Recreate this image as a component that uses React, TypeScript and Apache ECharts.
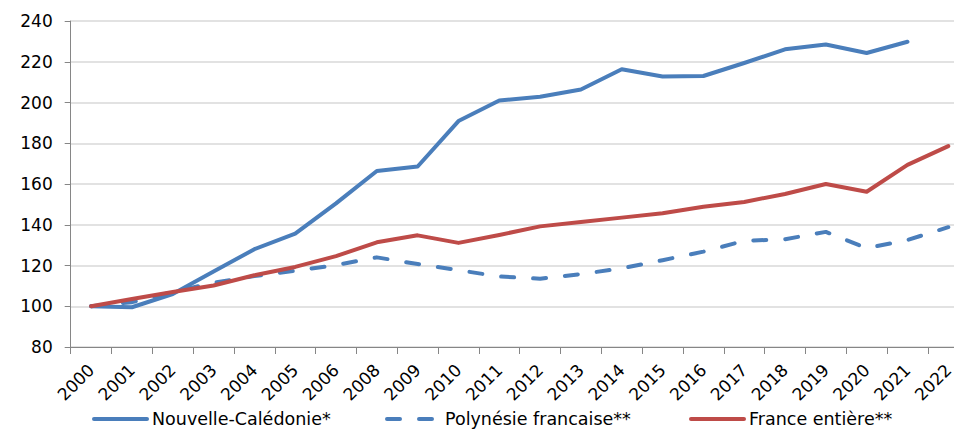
import React, { useEffect, useRef } from "react";
import * as echarts from "echarts";

const years = ["2000","2001","2002","2003","2004","2005","2006","2008","2009","2010","2011","2012","2013","2014","2015","2016","2017","2018","2019","2020","2021","2022"];
const nouvelleCaledonie = [100, 99.5, 106, 117, 128, 135.6, 150.5, 166.4, 168.6, 190.9, 201, 202.8, 206.4, 216.3, 212.8, 213, 219.4, 226.1, 228.5, 224.3, 229.8, null];
const polynesie = [100, 102, 107, 111.5, 114.8, 117.4, 120.2, 124, 120.7, 117.7, 114.6, 113.5, 115.8, 118.6, 122.6, 126.8, 132.1, 132.9, 136.5, 128.5, 132.5, 138.8];
const france = [100, 103.6, 107, 110.2, 115.2, 119.3, 124.6, 131.4, 134.8, 131.1, 135, 139.2, 141.4, 143.5, 145.6, 148.8, 151.2, 155.1, 160, 156.2, 169.4, 178.6];
const seriesNames = ["Nouvelle-Calédonie*", "Polynésie francaise**", "France entière**"];
const yTicks = { min: 80, max: 240, interval: 20 };

const BLUE = "#4a7ebb";
const RED = "#be4b48";
const FONT = "DejaVu Sans";

export default function App() {
  const ref = useRef<HTMLDivElement>(null);
  useEffect(() => {
    if (!ref.current) return;
    const chart = echarts.init(ref.current, null, { renderer: "svg" });
    const legendBase = {
      top: 410,
      padding: 0,
      itemWidth: 53,
      itemHeight: 18,
      itemStyle: { opacity: 0 },
      lineStyle: { width: 4, cap: "round" },
      textStyle: { fontFamily: FONT, fontSize: 17.5, color: "#000", padding: [0, 0, 0, 0] },
      itemGap: 5,
    };
    chart.setOption({
      animation: false,
      backgroundColor: "#fff",
      grid: { left: 70.7, top: 21, width: 898, height: 326, outerBoundsMode: "none", containLabel: false },
      legend: [
        { ...legendBase, left: 92, data: [seriesNames[0]] },
        { ...legendBase, left: 385, data: [seriesNames[1]] },
        { ...legendBase, left: 689, data: [seriesNames[2]] },
      ],
      xAxis: {
        type: "category",
        data: years,
        boundaryGap: true,
        axisLine: { lineStyle: { color: "#868686", width: 1 } },
        axisTick: { show: true, length: 7, lineStyle: { color: "#868686" } },
        axisLabel: { rotate: 45, fontFamily: FONT, fontSize: 17, color: "#000", margin: 20, interval: 0 },
        splitLine: { show: false },
      },
      yAxis: {
        type: "value",
        min: yTicks.min,
        max: yTicks.max,
        interval: yTicks.interval,
        axisLine: { show: true, lineStyle: { color: "#868686", width: 1 } },
        axisTick: { show: true, length: 6, lineStyle: { color: "#868686" } },
        axisLabel: { fontFamily: FONT, fontSize: 17, color: "#000", margin: 18 },
        splitLine: { lineStyle: { color: "#d9d9d9", width: 1.5 } },
      },
      series: [
        {
          name: seriesNames[0], type: "line", data: nouvelleCaledonie, symbol: "none",
          itemStyle: { color: BLUE },
          lineStyle: { color: BLUE, width: 4, join: "round", cap: "round" },
        },
        {
          name: seriesNames[1], type: "line", data: polynesie, symbol: "none",
          itemStyle: { color: BLUE },
          lineStyle: { color: BLUE, width: 4, type: [13, 19], cap: "round", join: "round" },
        },
        {
          name: seriesNames[2], type: "line", data: france, symbol: "none",
          itemStyle: { color: RED },
          lineStyle: { color: RED, width: 4, join: "round", cap: "round" },
        },
      ],
    });
    return () => chart.dispose();
  }, []);
  return <div ref={ref} style={{ position: "fixed", left: 0, top: 0, width: 954, height: 433 }} />;
}
